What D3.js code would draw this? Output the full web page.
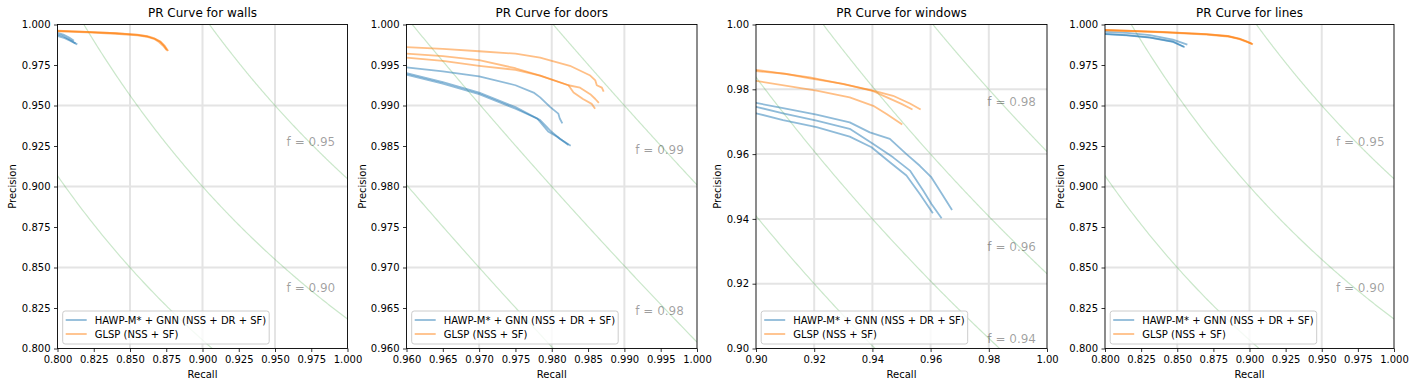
<!DOCTYPE html>
<html>
<head>
<meta charset="utf-8">
<script src="https://cdn.jsdelivr.net/npm/d3@7"></script>
<style>
  body { margin: 0; background: #fff; }
  text { font-family: "DejaVu Sans", sans-serif; }
</style>
</head>
<body>
<svg id="chart" width="1414" height="387"></svg>
<script>
// ---- data ----
const classNames = ["walls", "doors", "windows", "lines"];
const seriesNames = ["HAWP-M* + GNN (NSS + DR + SF)", "GLSP (NSS + SF)"];

const xDomains = [[0.8, 1.0], [0.96, 1.0], [0.9, 1.0], [0.8, 1.0]];
const yDomains = [[0.8, 1.0], [0.96, 1.0], [0.9, 1.0], [0.8, 1.0]];

const ticksWide = [0.8, 0.825, 0.85, 0.875, 0.9, 0.925, 0.95, 0.975, 1.0];
const ticksDoors = [0.96, 0.965, 0.97, 0.975, 0.98, 0.985, 0.99, 0.995, 1.0];
const ticksWindows = [0.9, 0.92, 0.94, 0.96, 0.98, 1.0];
const tickSets = [ticksWide, ticksDoors, ticksWindows, ticksWide];
const tickFormats = [".3f", ".3f", ".2f", ".3f"];

// iso-F levels (also where the grid lines sit)
const fLevels = [
  [0.85, 0.90, 0.95],
  [0.97, 0.98, 0.99],
  [0.92, 0.94, 0.96, 0.98],
  [0.85, 0.90, 0.95]
];
// f labels: [f, recall, precision]
const fLabels = [
  [[0.95, 0.958, 0.925], [0.90, 0.958, 0.835]],
  [[0.99, 0.9915, 0.9840], [0.98, 0.9915, 0.9641]],
  [[0.98, 0.9795, 0.9749], [0.96, 0.9795, 0.9300], [0.94, 0.9795, 0.9018]],
  [[0.95, 0.9598, 0.925], [0.90, 0.9598, 0.835]]
];

// PR curves, 3 runs per method: [recall, precision]
const wallsHawp = [
  [[0.800, 0.9948], [0.804, 0.9938], [0.808, 0.9920], [0.8108, 0.9903]],
  [[0.800, 0.9938], [0.804, 0.9928], [0.808, 0.9908], [0.8120, 0.9885]],
  [[0.800, 0.9930], [0.805, 0.9916], [0.809, 0.9899], [0.8131, 0.9880]]
];
const wallsGlsp = [
  [[0.800, 0.9960], [0.820, 0.9954], [0.840, 0.9946], [0.855, 0.9936], [0.862, 0.9926], [0.867, 0.9912], [0.871, 0.9893], [0.8735, 0.9868], [0.8755, 0.9843]],
  [[0.800, 0.9957], [0.820, 0.9951], [0.840, 0.9943], [0.855, 0.9933], [0.862, 0.9923], [0.867, 0.9909], [0.870, 0.9892], [0.8728, 0.9869], [0.8748, 0.9847]],
  [[0.800, 0.9962], [0.820, 0.9955], [0.840, 0.9947], [0.855, 0.9937], [0.862, 0.9928], [0.867, 0.9914], [0.871, 0.9895], [0.8740, 0.9868], [0.8760, 0.9841]]
];

const doorsHawp = [
  [[0.960, 0.9947], [0.965, 0.9942], [0.970, 0.9936], [0.975, 0.9925], [0.9775, 0.9916], [0.9784, 0.9910], [0.9798, 0.9898], [0.9809, 0.9890], [0.9811, 0.9884], [0.9814, 0.9879]],
  [[0.960, 0.9940], [0.965, 0.9929], [0.970, 0.9916], [0.975, 0.9898], [0.9784, 0.9882], [0.9798, 0.9869], [0.9811, 0.9859], [0.9825, 0.9851]],
  [[0.960, 0.9938], [0.965, 0.9927], [0.970, 0.9914], [0.975, 0.9896], [0.9780, 0.9884], [0.9795, 0.9868], [0.9808, 0.9861], [0.9822, 0.9852]]
];
const doorsGlsp = [
  [[0.960, 0.9972], [0.965, 0.9970], [0.970, 0.9967], [0.975, 0.9964], [0.9784, 0.9959], [0.980, 0.9955], [0.9825, 0.9949], [0.9853, 0.9937], [0.9860, 0.9931], [0.9862, 0.9925], [0.9869, 0.9922], [0.9871, 0.9918]],
  [[0.960, 0.9964], [0.965, 0.9961], [0.970, 0.9956], [0.975, 0.9946], [0.9784, 0.9937], [0.9823, 0.9925], [0.9839, 0.9922], [0.9853, 0.9914], [0.9860, 0.9908], [0.9864, 0.9904]],
  [[0.960, 0.9959], [0.965, 0.9955], [0.970, 0.9949], [0.975, 0.9944], [0.9784, 0.9937], [0.9823, 0.9925], [0.9830, 0.9916], [0.9843, 0.9908], [0.9855, 0.9902], [0.9859, 0.9897]]
];

const windowsHawp = [
  [[0.900, 0.9758], [0.9093, 0.9742], [0.9208, 0.9722], [0.9322, 0.9698], [0.9391, 0.9667], [0.9460, 0.9647], [0.9517, 0.9600], [0.9563, 0.9564], [0.9603, 0.9528], [0.9632, 0.9487], [0.9672, 0.9430]],
  [[0.900, 0.9746], [0.9093, 0.9726], [0.9208, 0.9703], [0.9322, 0.9678], [0.9403, 0.9631], [0.9471, 0.9590], [0.9529, 0.9549], [0.9575, 0.9487], [0.9603, 0.9446], [0.9636, 0.9404]],
  [[0.900, 0.9726], [0.9093, 0.9705], [0.9208, 0.9683], [0.9322, 0.9654], [0.9397, 0.9621], [0.9460, 0.9575], [0.9517, 0.9534], [0.9563, 0.9477], [0.9606, 0.9420]]
];
const windowsGlsp = [
  [[0.900, 0.9860], [0.9185, 0.9837], [0.930, 0.9816], [0.9403, 0.9796], [0.9471, 0.9780], [0.9529, 0.9756], [0.9563, 0.9739]],
  [[0.900, 0.9856], [0.910, 0.9848], [0.9185, 0.9834], [0.930, 0.9817], [0.9403, 0.9794], [0.945, 0.9775], [0.950, 0.9755], [0.9535, 0.9739]],
  [[0.900, 0.9826], [0.9208, 0.9796], [0.9322, 0.9775], [0.9403, 0.9749], [0.945, 0.9723], [0.9500, 0.9693]]
];

const linesHawp = [
  [[0.800, 0.9955], [0.815, 0.9948], [0.831, 0.9934], [0.847, 0.9907], [0.8564, 0.9878]],
  [[0.800, 0.9940], [0.815, 0.9933], [0.831, 0.9919], [0.847, 0.9893], [0.8546, 0.9862]],
  [[0.800, 0.9942], [0.815, 0.9935], [0.831, 0.9921], [0.847, 0.9895], [0.8540, 0.9865]]
];
const linesGlsp = [
  [[0.800, 0.9966], [0.840, 0.9953], [0.870, 0.9940], [0.885, 0.9928], [0.893, 0.9912], [0.898, 0.9895], [0.9015, 0.9881]],
  [[0.800, 0.9964], [0.840, 0.9951], [0.870, 0.9938], [0.885, 0.9926], [0.893, 0.9910], [0.898, 0.9893], [0.9010, 0.9883]],
  [[0.800, 0.9967], [0.840, 0.9954], [0.870, 0.9941], [0.885, 0.9929], [0.893, 0.9913], [0.898, 0.9896], [0.9018, 0.9880]]
];

const hawpRuns = [wallsHawp, doorsHawp, windowsHawp, linesHawp];
const glspRuns = [wallsGlsp, doorsGlsp, windowsGlsp, linesGlsp];

// ---- layout ----
const axLeft = [57.5, 406.5, 756, 1105];
const axWidth = [290, 290.5, 291, 289];
const axTop = 24.5, axBottom = 348.5;
const ylabelOffset = [42, 41, 35.5, 41.5];
const colors = ["#1f77b4", "#ff7f0e"];

const svg = d3.select("#chart");

classNames.forEach((name, i) => {
  const x = d3.scaleLinear().domain(xDomains[i]).range([axLeft[i], axLeft[i] + axWidth[i]]);
  const y = d3.scaleLinear().domain(yDomains[i]).range([axBottom, axTop]);
  const g = svg.append("g");

  g.append("clipPath").attr("id", "clip" + i)
    .append("rect")
    .attr("x", axLeft[i]).attr("y", axTop)
    .attr("width", axWidth[i]).attr("height", axBottom - axTop);

  const plot = g.append("g").attr("clip-path", `url(#clip${i})`);

  // grid at the f levels
  fLevels[i].forEach(f => {
    plot.append("line")
      .attr("x1", x(f)).attr("x2", x(f)).attr("y1", axTop).attr("y2", axBottom)
      .attr("stroke", "#e4e4e4").attr("stroke-width", 2);
    plot.append("line")
      .attr("x1", axLeft[i]).attr("x2", axLeft[i] + axWidth[i]).attr("y1", y(f)).attr("y2", y(f))
      .attr("stroke", "#e4e4e4").attr("stroke-width", 2);
  });

  // iso-F curves: P = f*R / (2R - f)
  const line = d3.line().x(d => x(d[0])).y(d => y(d[1]));
  fLevels[i].forEach(f => {
    const r0 = f / (2 - f);
    const rs = d3.range(0, 201).map(k => r0 + (xDomains[i][1] - r0) * k / 200);
    const pts = rs.map(r => [r, f * r / (2 * r - f)]);
    plot.append("path")
      .attr("d", line(pts))
      .attr("fill", "none")
      .attr("stroke", "#2ca02c")
      .attr("stroke-opacity", 0.25)
      .attr("stroke-width", 1.2);
  });

  // PR curves
  [hawpRuns[i], glspRuns[i]].forEach((runs, s) => {
    runs.forEach(run => {
      plot.append("path")
        .attr("d", line(run))
        .attr("fill", "none")
        .attr("stroke", colors[s])
        .attr("stroke-opacity", 0.5)
        .attr("stroke-width", 1.8)
        .attr("stroke-linejoin", "round")
        .attr("stroke-linecap", "square");
    });
  });

  // f labels
  fLabels[i].forEach(([f, r, p]) => {
    g.append("text")
      .attr("x", x(r)).attr("y", y(p))
      .attr("font-size", "12px")
      .attr("fill", "#000").attr("fill-opacity", 0.38)
      .text("f = " + d3.format(".2f")(f));
  });

  // axes
  const fmt = d3.format(tickFormats[i]);
  const xAxis = g.append("g")
    .attr("transform", `translate(0,${axBottom})`)
    .call(d3.axisBottom(x).tickValues(tickSets[i]).tickFormat(fmt).tickSize(3.5).tickPadding(3.5));
  const yAxis = g.append("g")
    .attr("transform", `translate(${axLeft[i]},0)`)
    .call(d3.axisLeft(y).tickValues(tickSets[i]).tickFormat(fmt).tickSize(3.5).tickPadding(3.5));
  [xAxis, yAxis].forEach(a => {
    a.attr("font-family", null).attr("font-size", null);
    a.select(".domain").remove();
    a.selectAll("text").attr("font-size", "10px").attr("fill", "#000");
    a.selectAll("line").attr("stroke", "#000").attr("stroke-width", 0.8);
  });

  // spines
  g.append("rect")
    .attr("x", axLeft[i]).attr("y", axTop)
    .attr("width", axWidth[i]).attr("height", axBottom - axTop)
    .attr("fill", "none").attr("stroke", "#000").attr("stroke-width", 0.9);

  // titles and labels
  g.append("text")
    .attr("x", axLeft[i] + axWidth[i] / 2).attr("y", 16.5)
    .attr("text-anchor", "middle").attr("font-size", "12px")
    .text("PR Curve for " + name);
  g.append("text")
    .attr("x", axLeft[i] + axWidth[i] / 2).attr("y", 378)
    .attr("text-anchor", "middle").attr("font-size", "10px")
    .text("Recall");
  g.append("text")
    .attr("transform", `translate(${axLeft[i] - ylabelOffset[i]},${(axTop + axBottom) / 2}) rotate(-90)`)
    .attr("text-anchor", "middle").attr("font-size", "10px")
    .text("Precision");

  // legend
  const lg = g.append("g").attr("transform", `translate(${axLeft[i] + 5.2},${axBottom - 37.5})`);
  lg.append("rect")
    .attr("width", 206.5).attr("height", 33).attr("rx", 2.5)
    .attr("fill", "#fff").attr("fill-opacity", 0.8)
    .attr("stroke", "#cccccc").attr("stroke-width", 1);
  seriesNames.forEach((sn, s) => {
    const yy = 9 + s * 14;
    lg.append("line")
      .attr("x1", 3).attr("x2", 24).attr("y1", yy).attr("y2", yy)
      .attr("stroke", colors[s]).attr("stroke-opacity", 0.5).attr("stroke-width", 1.8);
    lg.append("text")
      .attr("x", 32).attr("y", yy).attr("dy", "0.35em")
      .attr("font-size", "10px")
      .text(sn);
  });
});
</script>
</body>
</html>
